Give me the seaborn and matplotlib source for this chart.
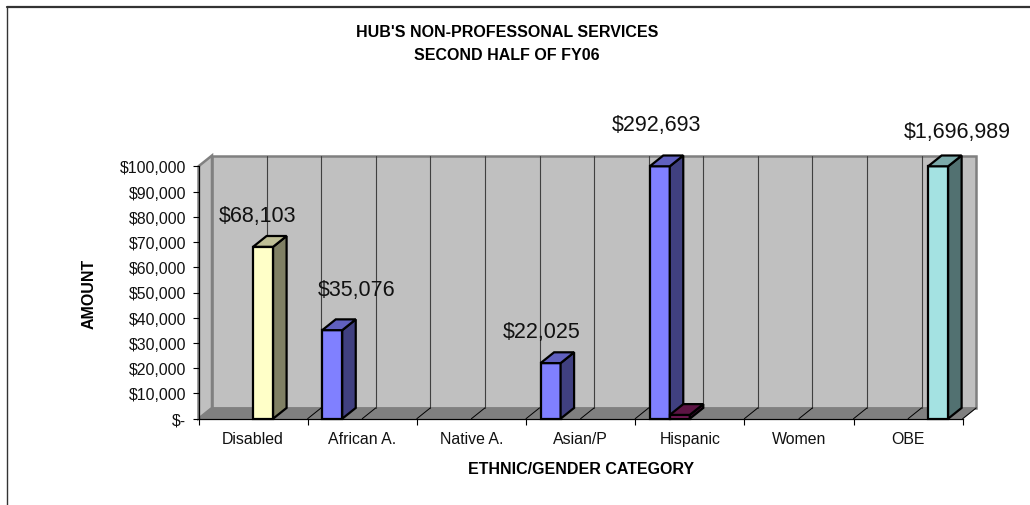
# -*- coding: utf-8 -*-
import pandas as pd
import seaborn as sns
import matplotlib
matplotlib.use("Agg")
import matplotlib.pyplot as plt
from matplotlib.lines import Line2D
from matplotlib.patches import Polygon

# data
categories = ["Disabled", "African A.", "Native A.", "Asian/P", "Hispanic", "Women", "OBE"]
bar_category = ["Disabled", "African A.", "Asian/P", "Hispanic", "Hispanic", "OBE"]
bar_series = ["disabled", "minority", "minority", "minority", "other", "obe"]
bar_values = [68103, 35076, 22025, 292693, 1500, 1696989]
series_order = ["minority", "other", "disabled", "obe"]
series_colors = {"minority": "#8080FF", "other": "#7A1A5A", "disabled": "#FFFFC8", "obe": "#A4E2E2"}
y_ticks = [0, 10000, 20000, 30000, 40000, 50000, 60000, 70000, 80000, 90000, 100000]
label_values = ["$68,103", "$35,076", "$22,025", "$292,693", "$1,696,989"]

# where the labels sit compared to bar top centre, pixels
label_dx = [-6, 24.5, -9, -3, 19]
label_dy = [31, 41, 32, 42, 35]

W, H = 1030, 506
ymax = y_ticks[-1]

sns.set_theme(style="white")
plt.rcParams["font.family"] = ["Liberation Sans", "DejaVu Sans"]

fig = plt.figure(figsize=(W / 100, H / 100), dpi=100)
ax = fig.add_axes([198.5 / W, (H - 419.7) / H, 764.2 / W, 252.4 / H])

data = pd.DataFrame({"category": bar_category, "series": bar_series, "value": bar_values})
sns.barplot(data=data, x="category", y="value", hue="series", order=categories,
            hue_order=series_order, palette=series_colors, dodge=True, width=0.733,
            gap=0, saturation=1, edgecolor="black", linewidth=1.6, legend=False, ax=ax)

ax.set_xlim(-0.5, 6.5)
ax.set_ylim(0, ymax)
ax.patch.set_visible(False)

# keep the bars before the walls go in, left to right
bars = sorted([p for p in ax.patches if p.get_height() > 0], key=lambda p: p.get_x())

# 3d depth in data units
dx = 13.5 / (764.2 / 7)
dy = 10.8 / 252.4 * ymax
x0, x1 = ax.get_xlim()

# walls and floor
wall_kw = dict(clip_on=False, zorder=0, joinstyle="miter")
ax.add_patch(Polygon([(x0 + dx, dy), (x1 + dx, dy), (x1 + dx, ymax + dy), (x0 + dx, ymax + dy)],
                     facecolor="#C0C0C0", edgecolor="#808080", linewidth=1.8, **wall_kw))
ax.add_patch(Polygon([(x0, 0), (x0 + dx, dy), (x0 + dx, ymax + dy), (x0, ymax)],
                     facecolor="#C0C0C0", edgecolor="#808080", linewidth=1.8, **wall_kw))
ax.add_patch(Polygon([(x0, 0), (x1, 0), (x1 + dx, dy), (x0 + dx, dy)],
                     facecolor="#808080", edgecolor="#808080", linewidth=0.8, **wall_kw))

# grid lines on the back wall, and their diagonals on the floor
for k in range(1, 14):
    gx = x0 + k * 0.5
    ax.plot([gx + dx, gx + dx], [dy, ymax + dy], color="#404040", lw=0.8, clip_on=False, zorder=0.5)
for k in range(1, 15):
    gx = x0 + k * 0.5
    ax.plot([gx, gx + dx], [0, dy], color="black", lw=0.7, clip_on=False, zorder=0.5)

# side and top faces for bars
tops = []
for i, bar in enumerate(bars):
    left, w = bar.get_x(), bar.get_width()
    top = min(bar.get_height(), ymax)
    bar.set_height(top)
    bar.set_clip_on(False)
    bar.set_zorder(3 + i)
    rgb = bar.get_facecolor()[:3]
    side = [c * 0.5 for c in rgb]
    lid = [c * 0.75 for c in rgb]
    ax.add_patch(Polygon([(left + w, 0), (left + w + dx, dy), (left + w + dx, top + dy), (left + w, top)],
                         facecolor=side, edgecolor="black", linewidth=1.6, clip_on=False, zorder=3 + i))
    ax.add_patch(Polygon([(left, top), (left + w, top), (left + w + dx, top + dy), (left + dx, top + dy)],
                         facecolor=lid, edgecolor="black", linewidth=1.6, clip_on=False, zorder=3 + i))
    tops.append((left + w / 2, top))

# value labels, the small unlabelled bar is skipped
labelled = [t for t in tops if t[1] > 2000]
for (bx, by), txt, ox, oy in zip(labelled, label_values, label_dx, label_dy):
    ax.annotate(txt, (bx, by), xytext=(ox * 0.72, oy * 0.72), textcoords="offset points",
                ha="center", va="center", fontsize=15.5, color="#111111",
                annotation_clip=False, zorder=20)

# axes
sns.despine(ax=ax, top=True, right=True)
for name in ["left", "bottom"]:
    ax.spines[name].set_color("black")
    ax.spines[name].set_linewidth(0.9)
    ax.spines[name].set_zorder(2)
ax.set_yticks(y_ticks)
ax.set_yticklabels(["$-" if v == 0 else "${:,.0f}".format(v) for v in y_ticks])
ax.set_xticks([x0 + k for k in range(8)], minor=True)
ax.tick_params(axis="x", which="major", length=0, pad=9, labelsize=11.4, labelcolor="#111111")
ax.tick_params(axis="x", which="minor", bottom=True, length=4, width=0.8, color="black")
ax.tick_params(axis="y", left=True, length=4, width=0.8, color="black", pad=5, labelsize=11.4, labelcolor="#111111")

ax.set_xlabel("ETHNIC/GENDER CATEGORY", fontsize=11.5, fontweight="bold", color="black")
ax.xaxis.set_label_coords(0.5, -(470 - 419.7) / 252.4)
ax.xaxis.label.set_va("center")
ax.set_ylabel("AMOUNT", fontsize=11.5, fontweight="bold", color="black")
ax.yaxis.set_label_coords(-(198.5 - 89) / 764.2, 0.5)
ax.yaxis.label.set_va("center")

fig.text(507 / W, 1 - 44 / H, "HUB'S NON-PROFESSONAL SERVICES\nSECOND HALF OF FY06", ha="center", va="center",
         fontsize=11.5, fontweight="bold", color="black", linespacing=1.6)

# frame of the page
fig.add_artist(Line2D([7 / W, 7 / W], [0, 1 - 7.5 / H], color="#333333", lw=1))
fig.add_artist(Line2D([6.5 / W, 1], [1 - 7.5 / H, 1 - 7.5 / H], color="#333333", lw=1.6))

fig.savefig("out.png", dpi=100)
